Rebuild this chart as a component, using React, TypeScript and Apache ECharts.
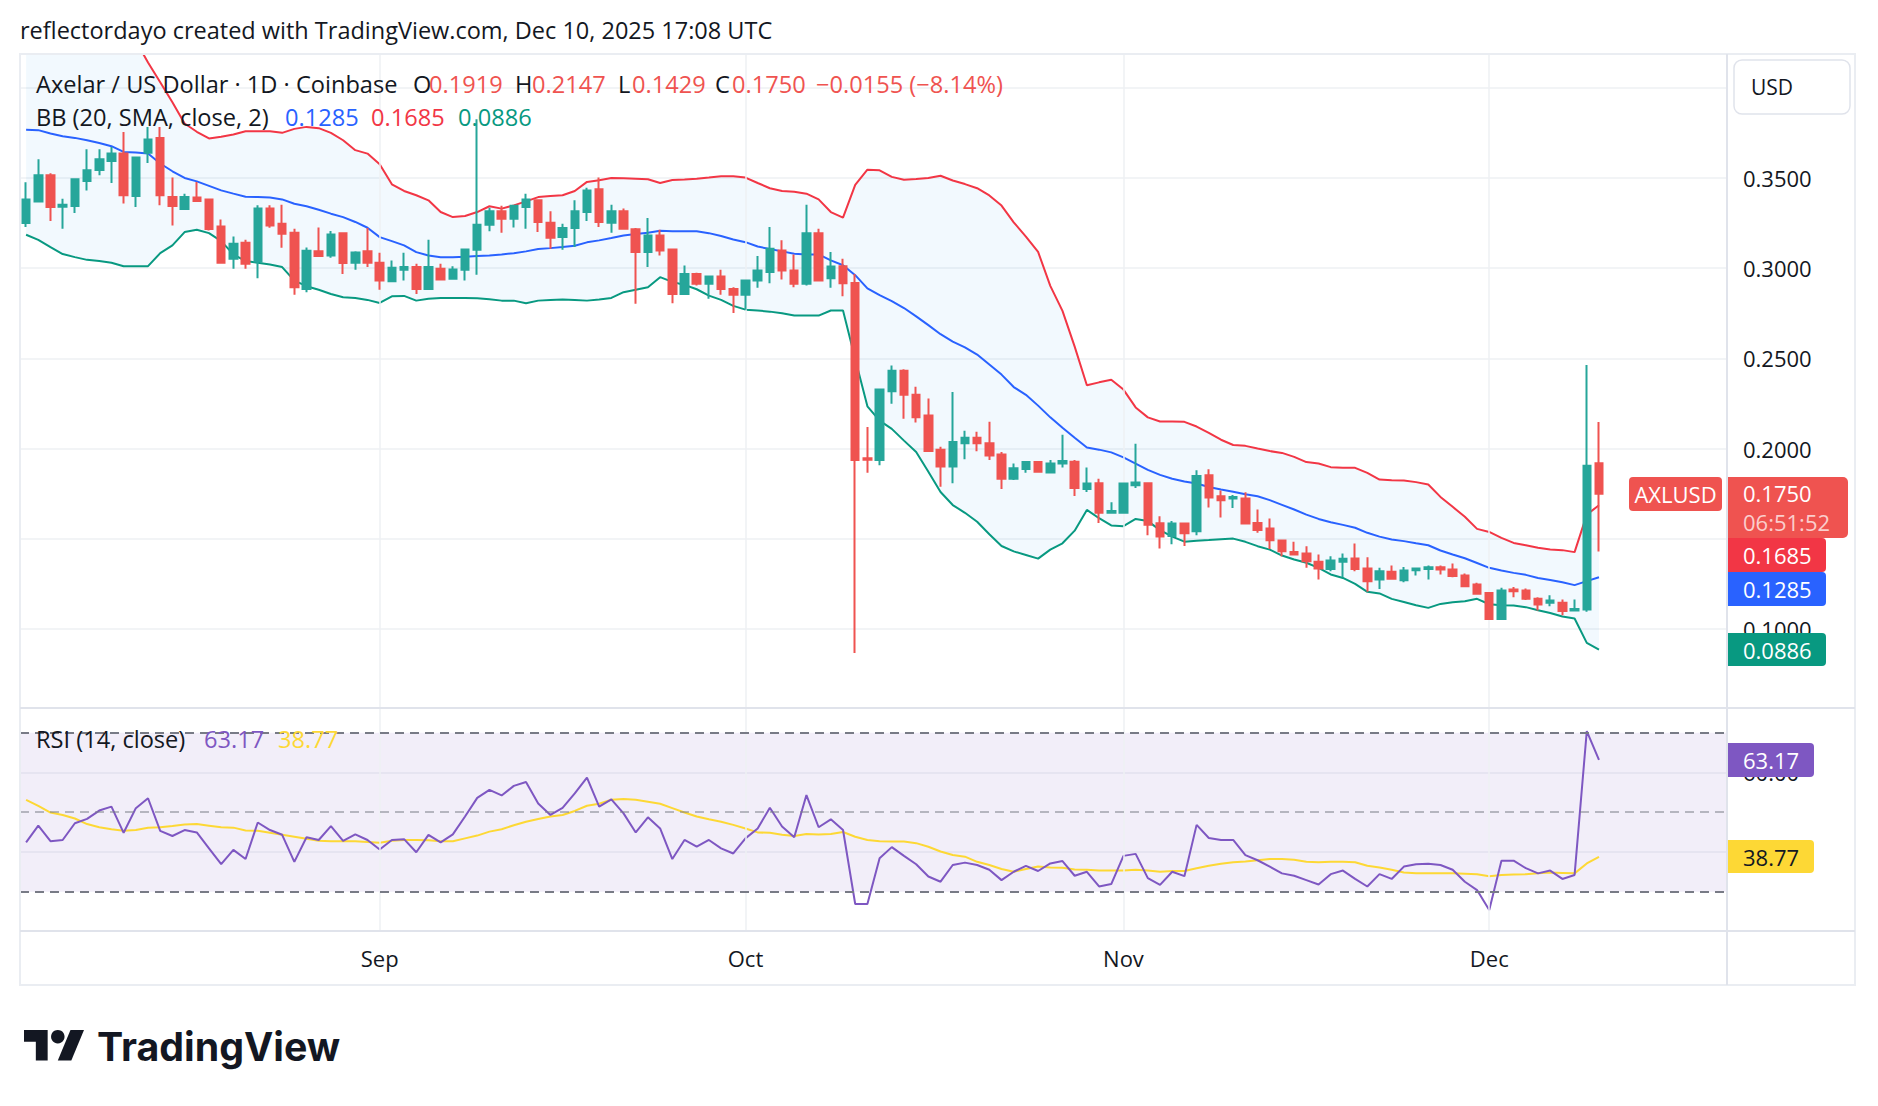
import React, { useEffect, useRef } from "react";
import * as echarts from "echarts";

const FONT = "'Open Sans', 'Noto Sans', sans-serif";
const INK = "#131722";
const UP = "#26A69A";
const DOWN = "#EF5350";
const GRID = "#EEF0F3";
const BORDER = "#E0E3EB";

// Daily slots from Aug 3 2025; the last 10 slots are the empty right margin.
const SLOT_COUNT = 140;
const MONTHS = ["Jan", "Feb", "Mar", "Apr", "May", "Jun", "Jul", "Aug", "Sep", "Oct", "Nov", "Dec"];
const categories = Array.from({ length: SLOT_COUNT }, (_, k) =>
  new Date(Date.UTC(2025, 7, 3 + k)).toISOString().slice(0, 10)
);

const opens = [
  0.3250, 0.3370, 0.3515, 0.3341, 0.3344, 0.3483, 0.3544, 0.3594, 0.3635, 0.3400,
  0.3639, 0.3722, 0.3394, 0.3328, 0.3391, 0.3381, 0.3231, 0.3052, 0.3141, 0.3037,
  0.3330, 0.3246, 0.3196, 0.2885, 0.3093, 0.3070, 0.3193, 0.3030, 0.3093, 0.3030,
  0.2928, 0.2991, 0.3006, 0.2885, 0.2996, 0.2941, 0.2991, 0.3102, 0.3241, 0.3315,
  0.3274, 0.3339, 0.3376, 0.3252, 0.3172, 0.3222, 0.3311, 0.3437, 0.3252, 0.3315,
  0.3215, 0.3089, 0.3181, 0.3104, 0.2857, 0.2968, 0.2913, 0.2954, 0.2885, 0.2852,
  0.2931, 0.2978, 0.3098, 0.2987, 0.2913, 0.3194, 0.2944, 0.3011, 0.2918, 0.1946,
  0.1937, 0.2317, 0.2432, 0.2298, 0.2183, 0.1994, 0.1901, 0.2030, 0.2060, 0.2030,
  0.1967, 0.1832, 0.1887, 0.1925, 0.1868, 0.1917, 0.1927, 0.1776, 0.1808, 0.1644,
  0.1644, 0.1796, 0.1808, 0.1586, 0.1515, 0.1584, 0.1541, 0.1852, 0.1735, 0.1723,
  0.1723, 0.1588, 0.1557, 0.1490, 0.1427, 0.1418, 0.1372, 0.1333, 0.1372, 0.1391,
  0.1335, 0.1274, 0.1317, 0.1270, 0.1326, 0.1333, 0.1342, 0.1330, 0.1296, 0.1246,
  0.1200, 0.1056, 0.1219, 0.1213, 0.1167, 0.1145, 0.1145, 0.1102, 0.1108, 0.1919,
];
const closes = [
  0.3381, 0.3515, 0.3339, 0.3352, 0.3493, 0.3543, 0.3604, 0.3635, 0.3404, 0.3613,
  0.3713, 0.3404, 0.3344, 0.3394, 0.3372, 0.3217, 0.3030, 0.3135, 0.3024, 0.3330,
  0.3237, 0.3191, 0.2894, 0.3096, 0.3067, 0.3187, 0.3028, 0.3087, 0.3030, 0.2931,
  0.3002, 0.3006, 0.2885, 0.3006, 0.2937, 0.2993, 0.3104, 0.3241, 0.3315, 0.3274,
  0.3346, 0.3380, 0.3256, 0.3168, 0.3222, 0.3315, 0.3431, 0.3256, 0.3315, 0.3219,
  0.3089, 0.3181, 0.3098, 0.2857, 0.2968, 0.2913, 0.2954, 0.2885, 0.2852, 0.2931,
  0.2987, 0.3107, 0.2987, 0.2913, 0.3194, 0.2931, 0.3009, 0.2917, 0.1937, 0.1938,
  0.2327, 0.2432, 0.2298, 0.2173, 0.1987, 0.1901, 0.2036, 0.2060, 0.2030, 0.1961,
  0.1832, 0.1891, 0.1925, 0.1872, 0.1917, 0.1931, 0.1782, 0.1806, 0.1644, 0.1654,
  0.1806, 0.1812, 0.1578, 0.1512, 0.1584, 0.1531, 0.1848, 0.1729, 0.1713, 0.1731,
  0.1584, 0.1548, 0.1492, 0.1431, 0.1413, 0.1376, 0.1335, 0.1379, 0.1389, 0.1333,
  0.1265, 0.1320, 0.1278, 0.1324, 0.1335, 0.1342, 0.1330, 0.1293, 0.1237, 0.1195,
  0.1056, 0.1213, 0.1209, 0.1167, 0.1135, 0.1158, 0.1099, 0.1111, 0.1905, 0.1750,
];
const lows = [
  0.3228, 0.3367, 0.3261, 0.3219, 0.3306, 0.3431, 0.3515, 0.3472, 0.3359, 0.3339,
  0.3583, 0.3348, 0.3237, 0.3325, 0.3370, 0.3209, 0.3024, 0.2996, 0.2996, 0.2944,
  0.3224, 0.3113, 0.2852, 0.2867, 0.3065, 0.3057, 0.2968, 0.2991, 0.3006, 0.2880,
  0.2922, 0.2931, 0.2857, 0.2880, 0.2931, 0.2937, 0.2931, 0.2963, 0.3204, 0.3196,
  0.3226, 0.3219, 0.3200, 0.3107, 0.3102, 0.3117, 0.3261, 0.3228, 0.3196, 0.3219,
  0.2802, 0.3006, 0.3070, 0.2806, 0.2855, 0.2904, 0.2830, 0.2852, 0.2752, 0.2770,
  0.2891, 0.2917, 0.2937, 0.2894, 0.2904, 0.2928, 0.2891, 0.2844, 0.0867, 0.1866,
  0.1907, 0.2248, 0.2165, 0.2145, 0.1985, 0.1788, 0.1808, 0.1941, 0.1985, 0.1937,
  0.1776, 0.1826, 0.1866, 0.1868, 0.1862, 0.1895, 0.1737, 0.1759, 0.1588, 0.1642,
  0.1640, 0.1782, 0.1519, 0.1446, 0.1469, 0.1460, 0.1519, 0.1673, 0.1618, 0.1670,
  0.1580, 0.1533, 0.1444, 0.1403, 0.1409, 0.1339, 0.1274, 0.1320, 0.1287, 0.1320,
  0.1206, 0.1222, 0.1274, 0.1259, 0.1296, 0.1274, 0.1302, 0.1287, 0.1237, 0.1191,
  0.1056, 0.1056, 0.1176, 0.1160, 0.1102, 0.1126, 0.1076, 0.1100, 0.1095, 0.1429,
];
const highs = [
  0.3476, 0.3604, 0.3526, 0.3385, 0.3493, 0.3659, 0.3659, 0.3672, 0.3754, 0.3613,
  0.3783, 0.3783, 0.3502, 0.3413, 0.3478, 0.3385, 0.3270, 0.3176, 0.3157, 0.3348,
  0.3348, 0.3352, 0.3219, 0.3115, 0.3226, 0.3206, 0.3196, 0.3093, 0.3222, 0.3085,
  0.3043, 0.3085, 0.3024, 0.3157, 0.3024, 0.3011, 0.3104, 0.3826, 0.3335, 0.3346,
  0.3346, 0.3413, 0.3376, 0.3315, 0.3246, 0.3376, 0.3446, 0.3502, 0.3352, 0.3330,
  0.3222, 0.3278, 0.3213, 0.3104, 0.3015, 0.2974, 0.2959, 0.2991, 0.2894, 0.2931,
  0.3067, 0.3228, 0.3154, 0.3076, 0.3352, 0.3219, 0.3089, 0.3052, 0.2967, 0.2119,
  0.2327, 0.2460, 0.2440, 0.2343, 0.2278, 0.2010, 0.2313, 0.2099, 0.2093, 0.2149,
  0.1981, 0.1917, 0.1925, 0.1931, 0.1937, 0.2076, 0.1937, 0.1895, 0.1832, 0.1703,
  0.1806, 0.2026, 0.1808, 0.1625, 0.1598, 0.1588, 0.1880, 0.1885, 0.1768, 0.1743,
  0.1758, 0.1662, 0.1612, 0.1496, 0.1483, 0.1459, 0.1413, 0.1403, 0.1418, 0.1474,
  0.1398, 0.1339, 0.1352, 0.1344, 0.1335, 0.1352, 0.1352, 0.1363, 0.1307, 0.1256,
  0.1200, 0.1228, 0.1233, 0.1224, 0.1176, 0.1187, 0.1163, 0.1163, 0.2463, 0.2147,
];

const bbUpper = [
  0.440, 0.440, 0.440, 0.440, 0.440, 0.440, 0.440, 0.436, 0.432, 0.426,
  0.414, 0.403, 0.392, 0.3802, 0.3756, 0.3719, 0.3728, 0.3741, 0.3759, 0.3759,
  0.3759, 0.3750, 0.3772, 0.3783, 0.3776, 0.3750, 0.3709, 0.3654, 0.3635, 0.3576,
  0.3465, 0.3428, 0.3404, 0.3376, 0.3311, 0.3283, 0.3289, 0.3311, 0.3343, 0.3330,
  0.3348, 0.3370, 0.3394, 0.3400, 0.3404, 0.3428, 0.3478, 0.3487, 0.3500, 0.3498,
  0.3496, 0.3493, 0.3472, 0.3489, 0.3491, 0.3496, 0.3502, 0.3509, 0.3509, 0.3502,
  0.3472, 0.3443, 0.3428, 0.3424, 0.3413, 0.3381, 0.3311, 0.3280, 0.3462, 0.3546,
  0.3542, 0.3506, 0.3490, 0.3494, 0.3500, 0.3512, 0.3486, 0.3466, 0.3443, 0.3403,
  0.3347, 0.3254, 0.3175, 0.3090, 0.2902, 0.2763, 0.2565, 0.2351, 0.2367, 0.2381,
  0.2327, 0.2228, 0.2173, 0.2150, 0.2150, 0.2148, 0.2122, 0.2087, 0.2049, 0.2020,
  0.2015, 0.2000, 0.1986, 0.1976, 0.1954, 0.1925, 0.1917, 0.1897, 0.1893, 0.1893,
  0.1865, 0.1828, 0.1825, 0.1823, 0.1814, 0.1801, 0.1732, 0.1677, 0.1622, 0.1555,
  0.1538, 0.1505, 0.1477, 0.1464, 0.1450, 0.1440, 0.1437, 0.1426, 0.1634, 0.1686,
];
const bbBasis = [
  0.3767, 0.3765, 0.3746, 0.3731, 0.3722, 0.3709, 0.3694, 0.3676, 0.3644, 0.3641,
  0.3635, 0.3580, 0.3537, 0.3500, 0.3481, 0.3456, 0.3431, 0.3413, 0.3396, 0.3394,
  0.3391, 0.3381, 0.3357, 0.3343, 0.3324, 0.3302, 0.3283, 0.3256, 0.3224, 0.3172,
  0.3150, 0.3126, 0.3089, 0.3070, 0.3061, 0.3061, 0.3063, 0.3067, 0.3070, 0.3076,
  0.3083, 0.3093, 0.3106, 0.3111, 0.3117, 0.3124, 0.3143, 0.3154, 0.3167, 0.3181,
  0.3189, 0.3196, 0.3207, 0.3204, 0.3204, 0.3204, 0.3194, 0.3178, 0.3159, 0.3144,
  0.3120, 0.3106, 0.3093, 0.3080, 0.3076, 0.3076, 0.3043, 0.3016, 0.2961, 0.2888,
  0.2850, 0.2817, 0.2779, 0.2733, 0.2684, 0.2634, 0.2593, 0.2561, 0.2521, 0.2466,
  0.2410, 0.2341, 0.2298, 0.2238, 0.2173, 0.2115, 0.2060, 0.2006, 0.1994, 0.1979,
  0.1951, 0.1917, 0.1882, 0.1854, 0.1833, 0.1818, 0.1806, 0.1787, 0.1773, 0.1761,
  0.1747, 0.1736, 0.1714, 0.1688, 0.1662, 0.1634, 0.1610, 0.1592, 0.1577, 0.1561,
  0.1533, 0.1512, 0.1496, 0.1487, 0.1475, 0.1464, 0.1435, 0.1413, 0.1392, 0.1366,
  0.1339, 0.1324, 0.1311, 0.1300, 0.1283, 0.1272, 0.1259, 0.1243, 0.1265, 0.1287,
];
const bbLower = [
  0.3185, 0.3157, 0.3117, 0.3078, 0.3061, 0.3046, 0.3039, 0.3030, 0.3011, 0.3011,
  0.3011, 0.3083, 0.3126, 0.3200, 0.3213, 0.3194, 0.3150, 0.3076, 0.3039, 0.3030,
  0.3020, 0.3006, 0.2931, 0.2900, 0.2880, 0.2857, 0.2839, 0.2835, 0.2824, 0.2807,
  0.2844, 0.2846, 0.2820, 0.2830, 0.2835, 0.2835, 0.2835, 0.2833, 0.2828, 0.2820,
  0.2820, 0.2806, 0.2820, 0.2824, 0.2826, 0.2824, 0.2820, 0.2826, 0.2835, 0.2867,
  0.2880, 0.2894, 0.2950, 0.2924, 0.2907, 0.2883, 0.2848, 0.2824, 0.2791, 0.2770,
  0.2765, 0.2759, 0.2750, 0.2737, 0.2737, 0.2737, 0.2765, 0.2765, 0.2496, 0.2234,
  0.2155, 0.2109, 0.2044, 0.1981, 0.1872, 0.1759, 0.1687, 0.1644, 0.1594, 0.1525,
  0.1460, 0.1430, 0.1410, 0.1390, 0.1440, 0.1475, 0.1545, 0.1660, 0.1614, 0.1574,
  0.1570, 0.1610, 0.1598, 0.1548, 0.1512, 0.1484, 0.1489, 0.1493, 0.1498, 0.1501,
  0.1483, 0.1459, 0.1440, 0.1407, 0.1385, 0.1367, 0.1339, 0.1302, 0.1283, 0.1250,
  0.1206, 0.1197, 0.1167, 0.1150, 0.1132, 0.1117, 0.1139, 0.1148, 0.1154, 0.1167,
  0.1137, 0.1132, 0.1130, 0.1121, 0.1104, 0.1089, 0.1069, 0.1058, 0.0923, 0.0886,
];

const rsi = [
  42.4, 46.6, 42.7, 43.0, 47.2, 48.3, 50.4, 51.4, 44.8, 51.0,
  53.5, 45.3, 44.0, 45.5, 44.9, 40.9, 36.9, 40.5, 38.2, 47.4,
  45.5, 44.3, 37.5, 43.7, 43.0, 46.5, 42.8, 44.4, 43.0, 40.6,
  43.0, 43.2, 39.9, 44.3, 42.4, 44.4, 48.9, 53.6, 55.6, 54.2,
  56.6, 57.6, 52.2, 49.3, 51.1, 54.7, 58.7, 51.4, 53.2, 49.7,
  44.9, 48.7, 45.9, 38.2, 43.0, 41.3, 43.0, 40.9, 39.6, 43.4,
  45.9, 51.1, 46.4, 43.7, 54.3, 46.2, 48.2, 45.5, 26.9, 26.9,
  38.4, 41.2, 39.0, 36.9, 33.8, 32.5, 36.7, 37.3, 36.7, 35.5,
  32.9, 35.0, 36.5, 35.2, 37.1, 37.7, 34.0, 35.0, 31.3, 31.9,
  39.0, 39.5, 33.4, 31.7, 35.0, 33.9, 46.8, 43.5, 43.0, 43.0,
  39.2, 37.9, 36.3, 34.6, 34.0, 32.9, 31.8, 34.4, 35.3, 33.2,
  31.3, 34.4, 33.2, 36.3, 36.9, 37.0, 36.7, 35.5, 32.5, 30.4,
  25.4, 37.8, 37.8, 35.9, 34.6, 35.3, 33.2, 34.2, 70.4, 63.17,
];
const rsiMa = [
  53.1, 51.6, 49.9, 49.3, 48.4, 47.0, 46.2, 45.7, 45.3, 45.5,
  46.1, 46.2, 46.5, 46.9, 47.0, 46.6, 46.2, 46.1, 45.4, 45.3,
  44.8, 44.3, 43.8, 43.3, 42.8, 42.7, 42.7, 42.7, 42.5, 42.3,
  42.8, 43.0, 43.0, 42.9, 42.7, 42.7, 43.4, 44.1, 45.1, 45.7,
  46.7, 47.6, 48.3, 48.9, 49.3, 50.3, 51.6, 52.1, 53.1, 53.3,
  53.1, 52.6, 52.1, 51.0, 49.9, 48.9, 48.2, 47.6, 46.8, 45.9,
  44.9, 44.8, 44.3, 44.0, 44.5, 44.4, 44.5, 45.0, 43.8, 43.0,
  42.7, 42.6, 42.6, 42.2, 41.3, 40.1, 39.2, 38.8, 37.5, 36.7,
  35.7, 35.0, 35.7, 36.3, 36.1, 36.0, 35.6, 35.5, 35.3, 35.3,
  35.3, 35.5, 35.3, 35.0, 35.2, 35.2, 35.9, 36.5, 37.0, 37.4,
  37.6, 37.9, 38.2, 38.2, 38.0, 37.5, 37.4, 37.5, 37.5, 37.4,
  36.5, 36.1, 35.5, 34.8, 34.6, 34.6, 34.6, 34.6, 34.5, 34.4,
  33.9, 34.2, 34.3, 34.4, 34.6, 34.8, 34.7, 34.6, 37.1, 38.77,
];
const rsiLevels = [70, 50, 30];
// price-scale labels that sit under the USD box / value tags in the reference
const hiddenPriceTicks = [0.4, 0.15];
const hiddenRsiTicks = [40];

const HEADER = "reflectordayo created with TradingView.com, Dec 10, 2025 17:08 UTC";
const SYMBOL_TITLE = "Axelar / US Dollar · 1D · Coinbase";
const OHLC_KEYS = ["O", "H", "L", "C"];
const OHLC_VALUES = ["0.1919", "0.2147", "0.1429", "0.1750"];
const CHANGE_TEXT = "−0.0155 (−8.14%)";
const BB_TITLE = "BB (20, SMA, close, 2)";
const BB_VALUES = ["0.1285", "0.1685", "0.0886"];
const RSI_TITLE = "RSI (14, close)";
const RSI_VALUES = ["63.17", "38.77"];
const TICKER = "AXLUSD";
const LAST_PRICE = "0.1750";
const COUNTDOWN = "06:51:52";
const CURRENCY = "USD";
const BRAND = "TradingView";

const C_UPPER = "#F23645";
const C_BASIS = "#2962FF";
const C_LOWER = "#089981";
const C_RSI = "#7E57C2";
const C_RSI_MA = "#FDD835";

function txt(x: number, y: number, text: string, size: number, fill: string, extra: any = {}) {
  const align = extra.align || "left";
  return {
    type: "text",
    x,
    y,
    z: 100,
    silent: true,
    style: {
      text,
      fill,
      fontSize: size,
      fontFamily: FONT,
      fontWeight: extra.weight || "normal",
      align,
      textAlign: align,
      verticalAlign: "middle",
      textVerticalAlign: "middle",
    },
  };
}

function tag(x: number, y: number, w: number, h: number, fill: string, r: any) {
  return {
    type: "rect",
    z: 99,
    silent: true,
    shape: { x, y, width: w, height: h, r },
    style: { fill },
  };
}

function hline(x1: number, x2: number, y: number, color: string, w = 2) {
  return { type: "line", z: 60, silent: true, shape: { x1, y1: y, x2, y2: y }, style: { stroke: color, lineWidth: w } };
}
function vline(x: number, y1: number, y2: number, color: string, w = 2) {
  return { type: "line", z: 60, silent: true, shape: { x1: x, y1, x2: x, y2 }, style: { stroke: color, lineWidth: w } };
}

function buildGraphic() {
  const g: any[] = [];
  g.push(txt(20, 30, HEADER, 23.5, INK));

  // frame
  g.push({ type: "rect", z: 60, silent: true, shape: { x: 20, y: 54, width: 1835, height: 931 }, style: { fill: "none", stroke: "#EAEDF2", lineWidth: 2 } });
  g.push(vline(1727, 54, 985, BORDER));
  g.push(hline(20, 1855, 708, BORDER));
  g.push(hline(20, 1855, 931, BORDER));

  // currency box
  g.push({ type: "rect", z: 99, silent: true, shape: { x: 1734, y: 60, width: 116, height: 54, r: 8 }, style: { fill: "#fff", stroke: BORDER, lineWidth: 1.5 } });
  g.push(txt(1751, 87, CURRENCY, 21, INK));

  // legend rows
  const LS = 23.6;
  g.push(txt(36, 84, SYMBOL_TITLE, LS, INK));
  const keyX = [413, 515, 618, 715];
  const valX = [429, 532, 632, 732];
  OHLC_KEYS.forEach((k, i) => {
    g.push(txt(keyX[i], 84, k, LS, INK));
    g.push(txt(valX[i], 84, OHLC_VALUES[i], LS, DOWN));
  });
  g.push(txt(816, 84, CHANGE_TEXT, LS, DOWN));

  g.push(txt(36, 117, BB_TITLE, LS, INK));
  const bbX = [285, 371, 458];
  const bbC = [C_BASIS, C_UPPER, C_LOWER];
  BB_VALUES.forEach((v, i) => g.push(txt(bbX[i], 117, v, LS, bbC[i])));

  g.push(txt(36, 739, RSI_TITLE, LS, INK));
  g.push(txt(204, 739, RSI_VALUES[0], LS, C_RSI));
  g.push(txt(278, 739, RSI_VALUES[1], LS, C_RSI_MA));

  // price scale tags
  g.push(tag(1629, 477, 93, 34, DOWN, 4));
  g.push(txt(1675.5, 494, TICKER, 22, "#fff", { align: "center" }));
  g.push(tag(1728, 477, 120, 61, DOWN, [0, 5, 5, 0]));
  g.push(txt(1743, 493, LAST_PRICE, 22, "#fff"));
  g.push(txt(1743, 522, COUNTDOWN, 22, "rgba(255,255,255,0.72)"));
  g.push(tag(1728, 538, 98, 34, C_UPPER, [0, 4, 4, 0]));
  g.push(txt(1743, 555, BB_VALUES[1], 22, "#fff"));
  g.push(tag(1728, 572, 98, 34, C_BASIS, [0, 4, 4, 0]));
  g.push(txt(1743, 589, BB_VALUES[0], 22, "#fff"));
  g.push(tag(1728, 633, 98, 33, C_LOWER, [0, 4, 4, 0]));
  g.push(txt(1743, 650, BB_VALUES[2], 22, "#fff"));
  g.push(tag(1728, 743, 86, 34, C_RSI, [0, 4, 4, 0]));
  g.push(txt(1743, 760, RSI_VALUES[0], 22, "#fff"));
  g.push(tag(1728, 840, 86, 33, C_RSI_MA, [0, 4, 4, 0]));
  g.push(txt(1743, 857, RSI_VALUES[1], 22, INK));

  // brand logo
  const s = 1.69, ox = 24, oy = 1023.2;
  const P = (pts: number[][]) => pts.map(([x, y]) => [ox + x * s, oy + y * s]);
  g.push({ type: "polygon", z: 100, silent: true, shape: { points: P([[0, 4], [14, 4], [14, 22], [7, 22], [7, 11], [0, 11]]) }, style: { fill: INK } });
  g.push({ type: "polygon", z: 100, silent: true, shape: { points: P([[20, 22], [28, 22], [35.5, 4], [27.5, 4]]) }, style: { fill: INK } });
  g.push({ type: "circle", z: 100, silent: true, shape: { cx: ox + 20 * s, cy: oy + 8 * s, r: 4 * s }, style: { fill: INK } });
  g.push({
    type: "text", x: 97, y: 1046, z: 100, silent: true,
    style: { text: BRAND, fill: INK, fontSize: 39.3, fontWeight: 700, fontFamily: "Inter, 'Open Sans', sans-serif", align: "left", textAlign: "left", verticalAlign: "middle", textVerticalAlign: "middle" },
  });
  return g;
}

const isOneOf = (v: number, list: number[]) => list.some((t) => Math.abs(v - t) < 1e-9);

export default function App() {
  const ref = useRef<HTMLDivElement>(null);

  useEffect(() => {
    if (!ref.current) return;
    const chart = echarts.init(ref.current, null, { renderer: "svg" });
    const candles = opens.map((o, i) => [o, closes[i], lows[i], highs[i]]);
    const bandWidth = bbUpper.map((u, i) => +(u - bbLower[i]).toFixed(4));
    const monthStarts = categories.filter((c) => c.endsWith("-01"));
    const vLines = monthStarts.map((c) => ({ xAxis: c }));
    const axisText = { color: INK, fontSize: 22, fontFamily: FONT };

    const option: any = {
      animation: false,
      backgroundColor: "#ffffff",
      grid: [
        { left: 20, top: 54, width: 1707, height: 654, outerBoundsMode: "none" },
        { left: 20, top: 708, width: 1707, height: 223, outerBoundsMode: "none" },
      ],
      xAxis: [
        {
          type: "category", gridIndex: 0, data: categories, boundaryGap: true,
          axisLine: { show: false }, axisTick: { show: false }, axisLabel: { show: false }, splitLine: { show: false },
        },
        {
          type: "category", gridIndex: 1, data: categories, boundaryGap: true,
          axisLine: { show: false }, axisTick: { show: false }, splitLine: { show: false },
          axisLabel: {
            ...axisText,
            margin: 16,
            interval: (_i: number, v: string) => v.endsWith("-01"),
            formatter: (v: string) => MONTHS[Number(v.slice(5, 7)) - 1],
          },
        },
      ],
      yAxis: [
        {
          type: "value", gridIndex: 0, position: "right", min: 0.0562, max: 0.4187, splitNumber: 7,
          axisLine: { show: false }, axisTick: { show: false },
          splitLine: { lineStyle: { color: GRID, width: 1.5 } },
          axisLabel: {
            ...axisText, margin: 16, showMinLabel: false, showMaxLabel: false,
            formatter: (v: number) => (isOneOf(v, hiddenPriceTicks) ? "" : v.toFixed(4)),
          },
        },
        {
          type: "value", gridIndex: 1, position: "right", min: 20.1, max: 76.2, splitNumber: 3,
          axisLine: { show: false }, axisTick: { show: false },
          splitLine: { lineStyle: { color: GRID, width: 1.5 } },
          axisLabel: {
            ...axisText, margin: 16, showMinLabel: false, showMaxLabel: false,
            formatter: (v: number) => (isOneOf(v, hiddenRsiTicks) ? "" : v.toFixed(2)),
          },
        },
      ],
      series: [
        {
          name: "bbBase", type: "line", xAxisIndex: 0, yAxisIndex: 0, data: bbLower, stack: "bb",
          showSymbol: false, symbol: "none", lineStyle: { opacity: 0 }, silent: true, z: 1,
          markLine: { silent: true, symbol: ["none", "none"], label: { show: false }, lineStyle: { color: GRID, width: 1.5, type: "solid" }, data: vLines },
        },
        {
          name: "bbFill", type: "line", xAxisIndex: 0, yAxisIndex: 0, data: bandWidth, stack: "bb",
          showSymbol: false, symbol: "none", lineStyle: { opacity: 0 }, silent: true, z: 1,
          areaStyle: { color: "rgba(33,150,243,0.06)", opacity: 1 },
        },
        { name: "upper", type: "line", xAxisIndex: 0, yAxisIndex: 0, data: bbUpper, showSymbol: false, symbol: "none", lineStyle: { color: C_UPPER, width: 2 }, silent: true, z: 3 },
        { name: "basis", type: "line", xAxisIndex: 0, yAxisIndex: 0, data: bbBasis, showSymbol: false, symbol: "none", lineStyle: { color: C_BASIS, width: 2 }, silent: true, z: 3 },
        { name: "lower", type: "line", xAxisIndex: 0, yAxisIndex: 0, data: bbLower, showSymbol: false, symbol: "none", lineStyle: { color: C_LOWER, width: 2 }, silent: true, z: 3 },
        {
          name: "AXLUSD", type: "candlestick", xAxisIndex: 0, yAxisIndex: 0, data: candles, barWidth: 8, silent: true, z: 5,
          itemStyle: { color: UP, color0: DOWN, borderColor: UP, borderColor0: DOWN, borderWidth: 2 },
        },
        {
          name: "rsiGuide", type: "line", xAxisIndex: 1, yAxisIndex: 1, data: rsiMa,
          showSymbol: false, symbol: "none", lineStyle: { opacity: 0 }, silent: true, z: 1,
          markArea: { silent: true, itemStyle: { color: "rgba(126,87,194,0.1)" }, data: [[{ yAxis: rsiLevels[2] }, { yAxis: rsiLevels[0] }]] },
          markLine: {
            silent: true, symbol: ["none", "none"], label: { show: false },
            data: [
              ...monthStarts.map((c) => ({ xAxis: c, lineStyle: { color: GRID, width: 1.5, type: "solid" } })),
              { yAxis: rsiLevels[0], lineStyle: { color: "#787B86", width: 2, type: [9, 6] } },
              { yAxis: rsiLevels[1], lineStyle: { color: "rgba(120,123,134,0.5)", width: 2, type: [9, 6] } },
              { yAxis: rsiLevels[2], lineStyle: { color: "#787B86", width: 2, type: [9, 6] } },
            ],
          },
        },
        { name: "rsiMa", type: "line", xAxisIndex: 1, yAxisIndex: 1, data: rsiMa, showSymbol: false, symbol: "none", lineStyle: { color: C_RSI_MA, width: 2 }, silent: true, z: 3 },
        { name: "rsi", type: "line", xAxisIndex: 1, yAxisIndex: 1, data: rsi, showSymbol: false, symbol: "none", lineStyle: { color: C_RSI, width: 2 }, silent: true, z: 4 },
      ],
      graphic: { elements: buildGraphic() },
    };

    chart.setOption(option);
    return () => chart.dispose();
  }, []);

  return (
    <div
      ref={ref}
      style={{ position: "absolute", left: 0, top: 0, width: 1878, height: 1106, background: "#fff" }}
    />
  );
}
